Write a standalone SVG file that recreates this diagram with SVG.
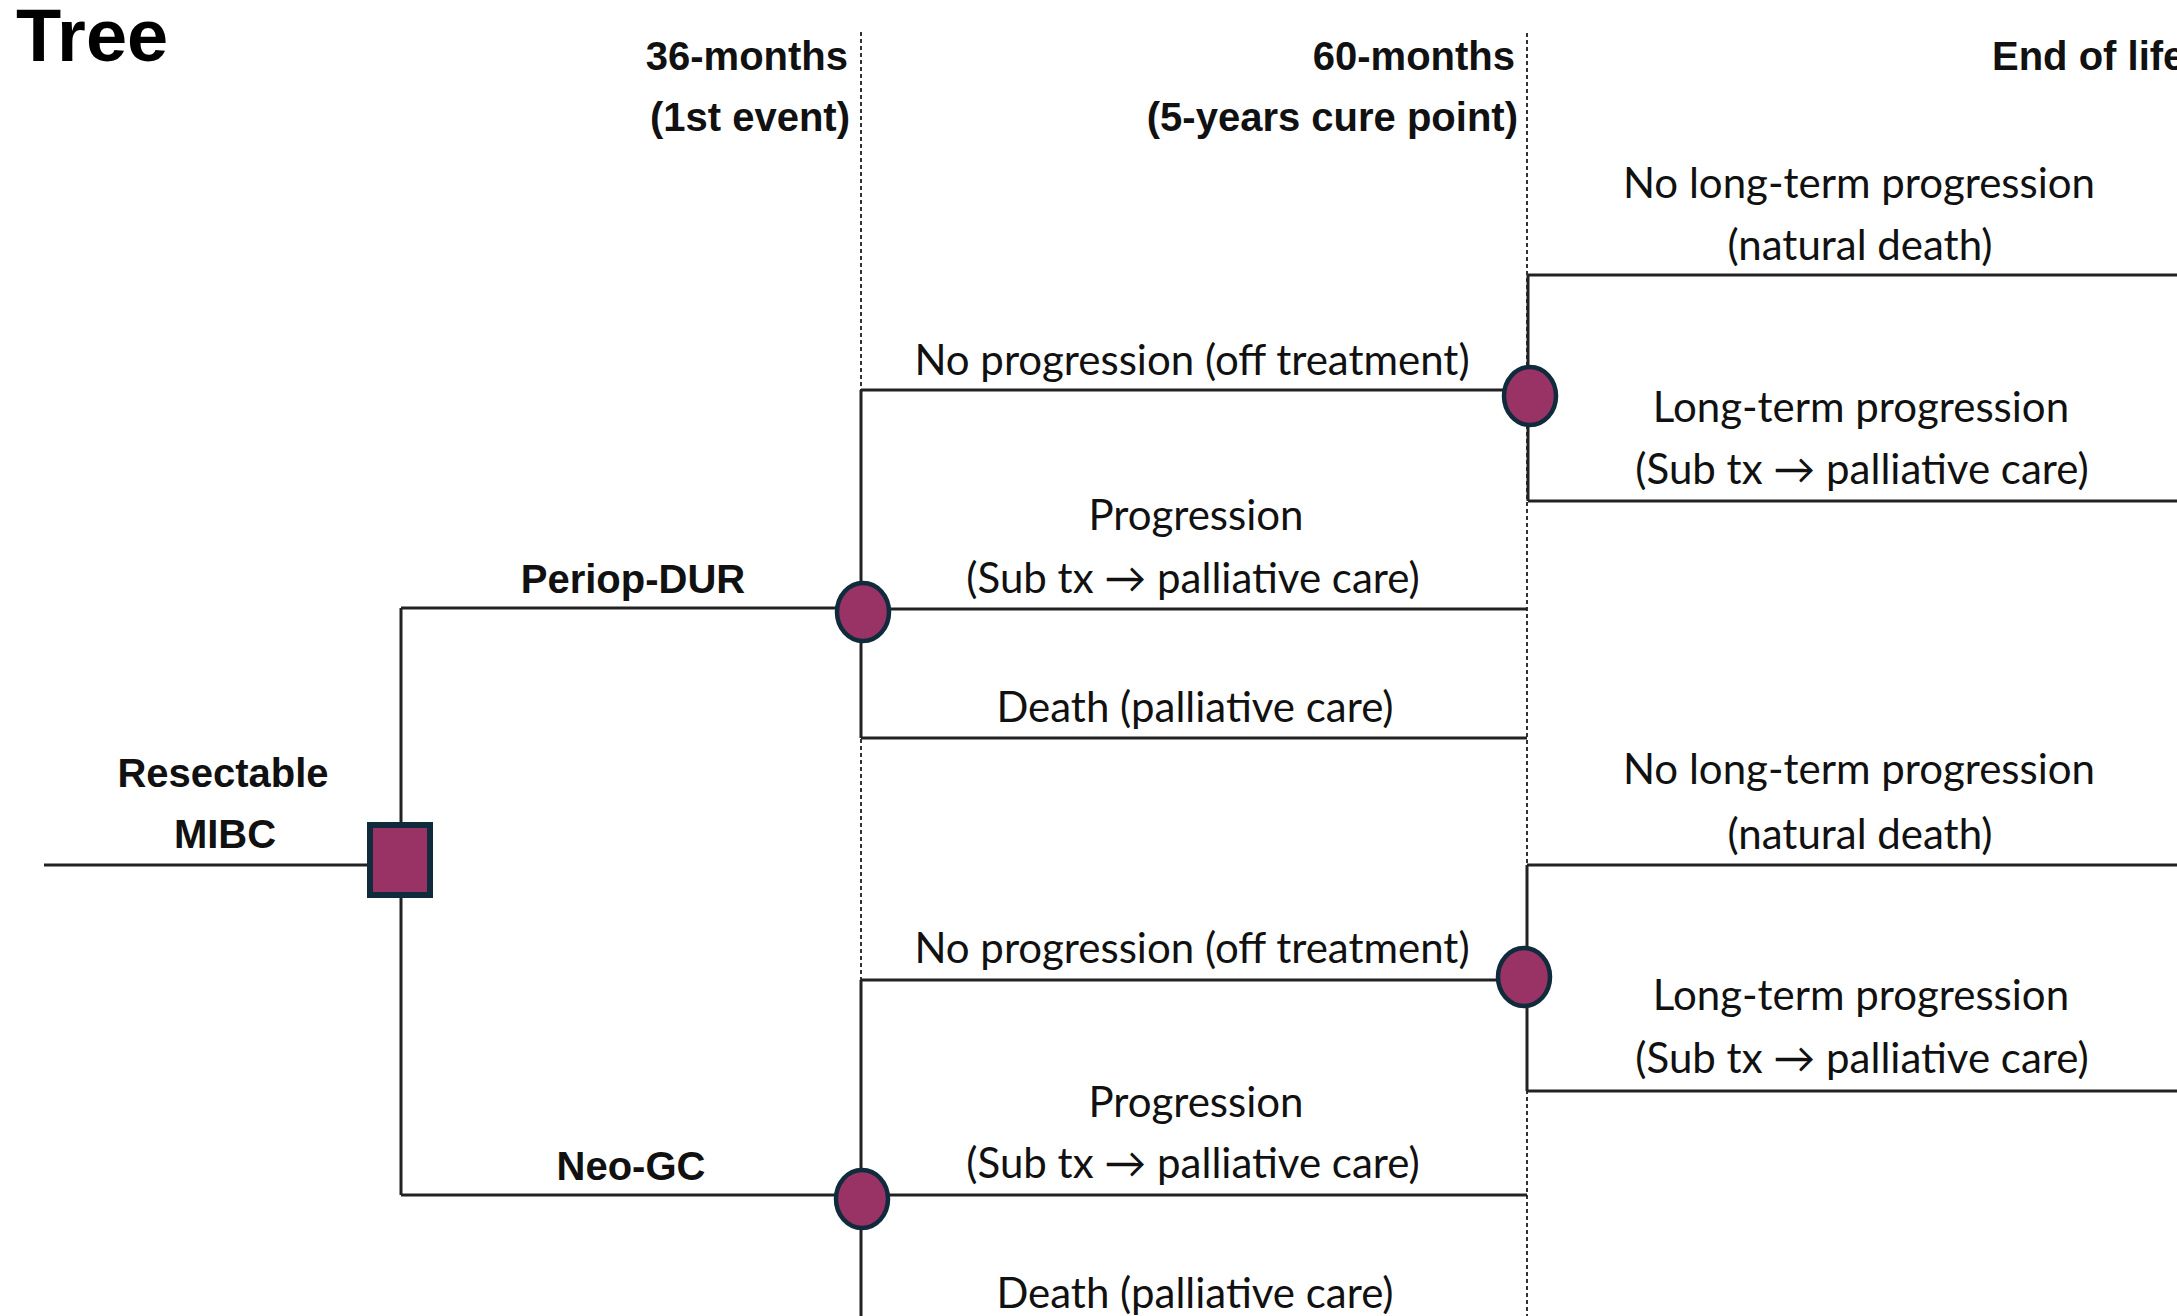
<svg xmlns="http://www.w3.org/2000/svg" width="2177" height="1316" viewBox="0 0 2177 1316">
<style>
.hdr{font-family:"Liberation Sans",Arial,sans-serif;font-weight:bold;font-size:40px;fill:#111}
.lbl{font-family:Lato,"Liberation Sans",sans-serif;font-size:42px;fill:#111;text-anchor:middle}
.bl{font-family:"Liberation Sans",Arial,sans-serif;font-weight:bold;font-size:40px;fill:#111;text-anchor:middle}
.ln{stroke:#222;stroke-width:3;fill:none}
.dot{stroke:#333;stroke-width:2;stroke-dasharray:4 3;fill:none}
.chance{fill:#993366;stroke:#0f2b3c;stroke-width:4.5}
.dec{fill:#993366;stroke:#0f2b3c;stroke-width:6}
</style>
<rect width="2177" height="1316" fill="#fff"/>
<text x="16" y="61" style="font-family:'Liberation Sans',Arial,sans-serif;font-weight:bold;font-size:74px;fill:#000">Tree</text>
<g id="timeline">
<path class="dot" d="M861 32V1316M1527 33V1316"/>
<text class="hdr" x="848" y="70" text-anchor="end">36-months</text>
<text class="hdr" x="850" y="131" text-anchor="end">(1st event)</text>
<text class="hdr" x="1515" y="70" text-anchor="end">60-months</text>
<text class="hdr" x="1518" y="131" text-anchor="end">(5-years cure point)</text>
<text class="hdr" x="1992" y="70">End of life</text>
</g>
<g id="connectors">
<path class="ln" d="M44 865H370M401 608V1195M401 608H861M401 1195H861"/>
<path class="ln" d="M861 390V738M861 390H1528M861 609H1527M861 738H1527"/>
<path class="ln" d="M1528 275V501M1528 275H2177M1528 501H2177"/>
<path class="ln" d="M861 980V1316M861 980H1525M861 1195H1527"/>
<path class="ln" d="M1527 865V1091M1527 865H2177M1527 1091H2177"/>
</g>
<g id="labels">
<text class="bl" x="223" y="787">Resectable</text>
<text class="bl" x="225" y="848">MIBC</text>
<text class="bl" x="633" y="593">Periop-DUR</text>
<text class="bl" x="631" y="1180">Neo-GC</text>
<text class="lbl" x="1192" y="375">No progression (off treatment)</text>
<text class="lbl" x="1196" y="530">Progression</text>
<text class="lbl" x="1193" y="593">(Sub tx → palliative care)</text>
<text class="lbl" x="1195" y="722">Death (palliative care)</text>
<text class="lbl" x="1859" y="198">No long-term progression</text>
<text class="lbl" x="1860" y="260">(natural death)</text>
<text class="lbl" x="1861" y="422">Long-term progression</text>
<text class="lbl" x="1862" y="484">(Sub tx → palliative care)</text>
<text class="lbl" x="1192" y="963">No progression (off treatment)</text>
<text class="lbl" x="1196" y="1117">Progression</text>
<text class="lbl" x="1193" y="1178">(Sub tx → palliative care)</text>
<text class="lbl" x="1195" y="1308">Death (palliative care)</text>
<text class="lbl" x="1859" y="784">No long-term progression</text>
<text class="lbl" x="1860" y="849">(natural death)</text>
<text class="lbl" x="1861" y="1010">Long-term progression</text>
<text class="lbl" x="1862" y="1073">(Sub tx → palliative care)</text>
</g>
<g id="root-decision"><rect class="dec" x="370" y="825" width="60" height="70"/></g>
<g id="chance-periop"><ellipse class="chance" cx="863" cy="612" rx="26" ry="29"/></g>
<g id="chance-periop-noprog"><ellipse class="chance" cx="1530" cy="396" rx="26" ry="29"/></g>
<g id="chance-neo"><ellipse class="chance" cx="862" cy="1199" rx="26" ry="29"/></g>
<g id="chance-neo-noprog"><ellipse class="chance" cx="1524" cy="977" rx="26" ry="29"/></g>
</svg>
